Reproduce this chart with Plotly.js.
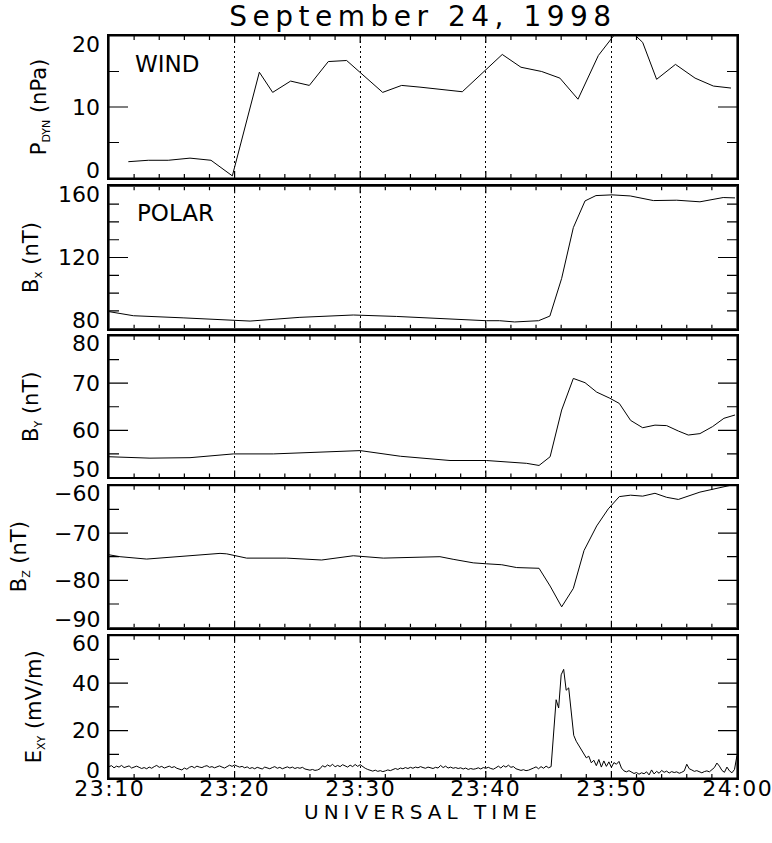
<!DOCTYPE html>
<html><head><meta charset="utf-8">
<script src="https://cdn.plot.ly/plotly-3.0.1.min.js"></script>
<style>body{margin:0;background:#fff}</style>
</head><body>
<div id="chart" style="width:772px;height:843px"></div>
<script>
// time axis: minutes after 23:10 UT
const xTickVals = [0, 10, 20, 30, 40, 50];
const xTickText = ["23:10", "23:20", "23:30", "23:40", "23:50", "24:00"];
const xMinorStep = 2;

// WIND dynamic pressure (nPa)
const pdynTime = [1.54, 3.13, 4.72, 6.45, 8.12, 9.82, 11.97, 13.03, 14.46, 15.95, 17.46, 18.92, 21.79, 23.3, 24.76, 28.13, 31.31, 32.8, 34.45, 35.9, 37.34, 38.96, 40.6, 41.6, 42.49, 43.6, 45.1, 46.66, 48.12, 49.52];
const pdynVals = [2.3, 2.5, 2.5, 2.8, 2.5, 0.3, 14.9, 12.06, 13.65, 13.04, 16.4, 16.55, 12.06, 13.04, 12.8, 12.15, 17.4, 15.6, 15.0, 14.07, 11.1, 17.25, 21.0, 20.6, 19.1, 13.9, 16.0, 14.07, 12.95, 12.67];

// POLAR magnetic field (nT)
const bTime = [0, 1.94, 5.9, 10.0, 11.23, 15.2, 19.45, 22.9, 26.35, 27.4, 30.04, 31.1, 32.3, 34.2, 35.1, 36.04, 36.97, 37.9, 38.77, 40.05, 41.5, 43.34, 45.2, 47.05, 48.9, 49.84];
const bxVals = [89.6, 87.3, 86.1, 84.9, 84.3, 86.4, 87.7, 86.9, 85.8, 85.1, 84.5, 84.5, 83.8, 84.5, 87.1, 108.3, 136.8, 151.8, 154.8, 155.2, 154.6, 152.0, 152.2, 151.3, 153.7, 153.5];

const byTime = [0, 3.26, 6.45, 9.9, 13.08, 16.54, 20.0, 23.2, 24.76, 27.15, 30.04, 33.25, 34.24, 35.12, 36.04, 36.97, 37.9, 38.83, 39.88, 40.63, 41.53, 42.49, 43.47, 44.4, 45.33, 46.12, 47.05, 48.06, 48.96, 49.84];
const byVals = [54.4, 54.1, 54.2, 55.0, 55.0, 55.4, 55.7, 54.5, 54.1, 53.6, 53.6, 53.0, 52.55, 54.4, 64.3, 71.0, 70.1, 68.1, 66.8, 65.7, 62.1, 60.55, 61.1, 61.0, 59.85, 59.0, 59.3, 60.8, 62.55, 63.25];

const bzTime = [0, 0.88, 3.0, 5.92, 8.84, 9.37, 10.96, 14.15, 16.93, 19.45, 21.84, 24.76, 26.35, 27.4, 29.0, 30.04, 31.27, 32.46, 33.39, 34.24, 35.12, 36.04, 36.97, 37.82, 38.83, 39.75, 40.63, 41.53, 42.49, 43.47, 44.4, 45.33, 47.05, 48.06, 49.84];
const bzVals = [-74.6, -75.0, -75.5, -74.9, -74.3, -74.4, -75.3, -75.3, -75.7, -74.8, -75.3, -75.1, -75.0, -75.55, -76.3, -76.5, -76.7, -77.3, -77.45, -77.45, -81.2, -85.6, -81.7, -73.7, -68.5, -64.9, -62.3, -62.0, -62.2, -61.6, -62.45, -62.9, -61.35, -60.7, -59.7];

// POLAR electric field E_xy (mV/m), sampled every 0.2 min from 23:10
const exyStart = 0;
const exyStep = 0.2;
const exyVals = [
 4.8,5.2,4.3,5.0,4.6,5.3,4.4,4.9,5.1,4.2,4.7,5.0,4.5,4.0,4.4,3.9,4.6,4.1,4.8,5.3,4.5,4.9,4.2,4.6,5.0,4.4,
 4.8,4.1,3.9,3.4,4.2,3.7,4.5,4.9,4.3,5.0,4.6,4.4,4.9,5.2,4.5,4.8,4.3,4.7,5.1,4.6,4.2,4.8,5.4,4.9,5.5,
 5.0,4.6,4.9,4.3,4.7,4.0,4.4,3.9,4.5,4.1,3.8,4.6,4.2,3.9,4.4,4.8,4.1,4.5,3.9,4.3,4.7,4.2,4.6,4.0,4.4,
 4.1,4.5,3.8,3.5,3.3,3.6,3.2,3.4,3.9,5.2,4.6,5.5,4.9,5.8,4.7,5.3,4.8,5.6,5.0,4.6,5.4,4.8,5.7,4.9,5.6,
 4.7,4.1,3.6,3.2,2.9,3.3,2.8,3.1,2.7,3.0,3.4,3.1,3.7,4.0,3.6,4.2,3.9,4.4,4.0,4.5,4.1,4.6,4.3,4.8,4.4,
 4.1,4.6,4.3,4.0,4.5,4.2,5.3,4.4,5.0,4.2,4.6,4.1,4.4,4.0,4.3,3.8,4.2,3.6,4.0,3.7,3.9,4.3,3.8,4.4,4.1,
 4.5,4.0,3.7,4.3,5.0,4.2,5.2,4.6,5.4,4.5,4.8,3.9,3.4,3.2,3.5,3.1,3.3,3.6,4.2,4.7,3.9,4.8,4.1,5.0,4.3,
 4.8,18.5,33.0,29.5,43.5,45.8,37.0,38.0,27.0,18.0,15.5,13.8,12.0,10.5,8.5,9.2,6.4,7.5,5.2,7.8,4.6,7.2,4.9,6.8,4.5,
 6.5,5.8,7.0,4.2,3.0,2.6,3.1,2.4,1.9,2.3,1.6,2.2,1.8,2.6,1.3,3.4,1.7,2.8,2.0,3.2,2.4,2.9,2.1,2.7,2.3,
 2.6,2.0,2.4,3.0,5.8,3.9,3.4,2.8,3.1,2.5,2.2,2.7,3.0,2.6,3.5,4.4,6.3,5.0,3.2,2.4,4.6,3.0,2.2,3.6,9.5
];
const exyTime = exyVals.map((_, i) => exyStart + i * exyStep);

// y tick values (major, labelled) per panel
const pdynTicks = [0, 10, 20];
const bxTicks = [80, 120, 160];
const byTicks = [50, 60, 70, 80];
const bzTicks = [-90, -80, -70, -60];
const exyTicks = [0, 20, 40, 60];

const FONT = '"DejaVu Sans", sans-serif';
const BLACK = '#000';
const W = 772, H = 843, M = {l: 109, r: 35, t: 36, b: 65};
const plotW = W - M.l - M.r, plotH = H - M.t - M.b;
const X_RANGE = [0, 50];
const tickFont = {family: FONT, size: 22, color: BLACK};
const titleFont = {family: FONT, size: 21, color: BLACK};

const panels = [
  {xa: 'x',  ya: 'y',  domain: [0.8086, 1.0],   range: [0, 20],    ticks: pdynTicks, minor: 5,  title: 'P<sub><span style="font-size:11px">DYN</span></sub> (nPa)', standoff: 55},
  {xa: 'x2', ya: 'y2', domain: [0.6055, 0.7974], range: [80, 160],  ticks: bxTicks,   minor: 10, title: 'B<sub><span style="font-size:12px">x</span></sub> (nT)', standoff: 63},
  {xa: 'x3', ya: 'y3', domain: [0.4050, 0.5957], range: [50, 80],   ticks: byTicks,   minor: 5,  title: 'B<sub><span style="font-size:11px">Y</span></sub> (nT)', standoff: 63},
  {xa: 'x4', ya: 'y4', domain: [0.2026, 0.3939], range: [-90, -60], ticks: bzTicks,   minor: 5,  title: 'B<sub><span style="font-size:11px">Z</span></sub> (nT)', standoff: 75},
  {xa: 'x5', ya: 'y5', domain: [0.0, 0.1918],    range: [0, 60],    ticks: exyTicks,  minor: 10, title: 'E<sub><span style="font-size:11px">XY</span></sub> (mV/m)', standoff: 60}
];

const line = {color: BLACK, width: 1};
const traces = [
  {x: pdynTime, y: pdynVals, xaxis: 'x', yaxis: 'y', type: 'scatter', mode: 'lines', line: line},
  {x: bTime, y: bxVals, xaxis: 'x2', yaxis: 'y2', type: 'scatter', mode: 'lines', line: line},
  {x: byTime, y: byVals, xaxis: 'x3', yaxis: 'y3', type: 'scatter', mode: 'lines', line: line},
  {x: bzTime, y: bzVals, xaxis: 'x4', yaxis: 'y4', type: 'scatter', mode: 'lines', line: line},
  {x: exyTime, y: exyVals, xaxis: 'x5', yaxis: 'y5', type: 'scatter', mode: 'lines', line: line}
];

const layout = {
  width: W, height: H, showlegend: false,
  paper_bgcolor: '#fff', plot_bgcolor: '#fff',
  margin: M,
  font: {family: FONT, color: BLACK},
  title: {text: 'September 24, 1998', font: {family: FONT, size: 28, color: BLACK}, x: 0.5, xref: 'paper', y: 0.981, yref: 'container', yanchor: 'middle'},
  annotations: []
};

const xTickPositions = [];
for (let v = X_RANGE[0] + xMinorStep; v < X_RANGE[1]; v += xMinorStep) xTickPositions.push(v);

panels.forEach((p, i) => {
  const sfx = i === 0 ? '' : String(i + 1);
  layout['xaxis' + sfx] = {
    range: X_RANGE, anchor: p.ya, showline: true, linewidth: 2, linecolor: BLACK, mirror: true,
    ticks: '', tickmode: 'array', tickvals: xTickVals, showticklabels: false,
    showgrid: true, gridcolor: BLACK, griddash: '2px,3px', gridwidth: 1, zeroline: false
  };
  layout['yaxis' + sfx] = {
    domain: p.domain, range: p.range, anchor: p.xa, showline: true, linewidth: 2, linecolor: BLACK, mirror: true,
    ticks: '', showgrid: false, zeroline: false, showticklabels: false,
    title: {text: p.title, font: titleFont, standoff: p.standoff}
  };

  // tick marks as one continuous comb line around the frame (pixel lengths converted through the panel scale)
  const xPerPx = (X_RANGE[1] - X_RANGE[0]) / plotW;
  const yPerPx = (p.range[1] - p.range[0]) / ((p.domain[1] - p.domain[0]) * plotH);
  const [x0, x1] = X_RANGE, [y0, y1] = p.range;
  const yPos = [];
  for (let v = y0 + p.minor; v < y1 - 1e-9; v += p.minor) yPos.push(v);
  const tx = [x0], ty = [y0];
  xTickPositions.forEach(v => { const l = (xTickVals.includes(v) ? 7 : 4) * yPerPx; tx.push(v, v, v); ty.push(y0, y0 + l, y0); });
  tx.push(x1); ty.push(y0);
  yPos.forEach(v => { const l = (p.ticks.includes(v) ? 19 : 10) * xPerPx; tx.push(x1, x1 - l, x1); ty.push(v, v, v); });
  tx.push(x1); ty.push(y1);
  xTickPositions.slice().reverse().forEach(v => { const l = (xTickVals.includes(v) ? 7 : 4) * yPerPx; tx.push(v, v, v); ty.push(y1, y1 - l, y1); });
  tx.push(x0); ty.push(y1);
  yPos.slice().reverse().forEach(v => { const l = (p.ticks.includes(v) ? 19 : 10) * xPerPx; tx.push(x0, x0 + l, x0); ty.push(v, v, v); });
  tx.push(x0); ty.push(y0);
  traces.push({x: tx, y: ty, xaxis: p.xa, yaxis: p.ya, type: 'scatter', mode: 'lines', line: {color: BLACK, width: 1.2, simplify: false}, hoverinfo: 'skip'});

  // y tick labels (edge labels nudged inward as in the original)
  p.ticks.forEach(v => {
    let ys = 0;
    if (v === p.range[1]) ys = -8; else if (v === p.range[0]) ys = 8;
    layout.annotations.push({text: String(v).replace('-', '\u2212'), xref: 'paper', x: 0, xanchor: 'right', xshift: -8,
      yref: p.ya, y: v, yanchor: 'middle', yshift: ys, showarrow: false, font: tickFont, borderpad: 0});
  });
});

// time labels under the bottom panel
xTickVals.forEach((v, k) => layout.annotations.push({
  text: xTickText[k], xref: 'x5', x: v, yref: 'paper', y: -0.0145, xanchor: 'center', yanchor: 'middle',
  showarrow: false, font: {family: FONT, size: 22, color: BLACK}, borderpad: 0
}));
layout.annotations.push(
  {text: 'UNIVERSAL TIME', xref: 'paper', yref: 'paper', x: 0.5, y: -0.046, xanchor: 'center', yanchor: 'middle', showarrow: false, font: {family: FONT, size: 20, color: BLACK}, borderpad: 0},
  {text: 'WIND', xref: 'paper', yref: 'paper', x: 0.038, y: 0.962, xanchor: 'left', yanchor: 'middle', showarrow: false, font: {family: FONT, size: 23, color: BLACK}},
  {text: 'POLAR', xref: 'paper', yref: 'paper', x: 0.041, y: 0.761, xanchor: 'left', yanchor: 'middle', showarrow: false, font: {family: FONT, size: 23, color: BLACK}}
);

Plotly.newPlot('chart', traces, layout, {displayModeBar: false}).then(() => {
  document.querySelectorAll('#chart .gtitle').forEach(el => { el.style.letterSpacing = '5.5px'; });
  document.querySelectorAll('#chart .annotation-text').forEach(el => {
    const t = el.textContent;
    if (xTickText.includes(t)) el.style.letterSpacing = '1.5px';
    else if (t === 'UNIVERSAL TIME') el.style.letterSpacing = '5px';
  });
});
</script>
</body></html>
